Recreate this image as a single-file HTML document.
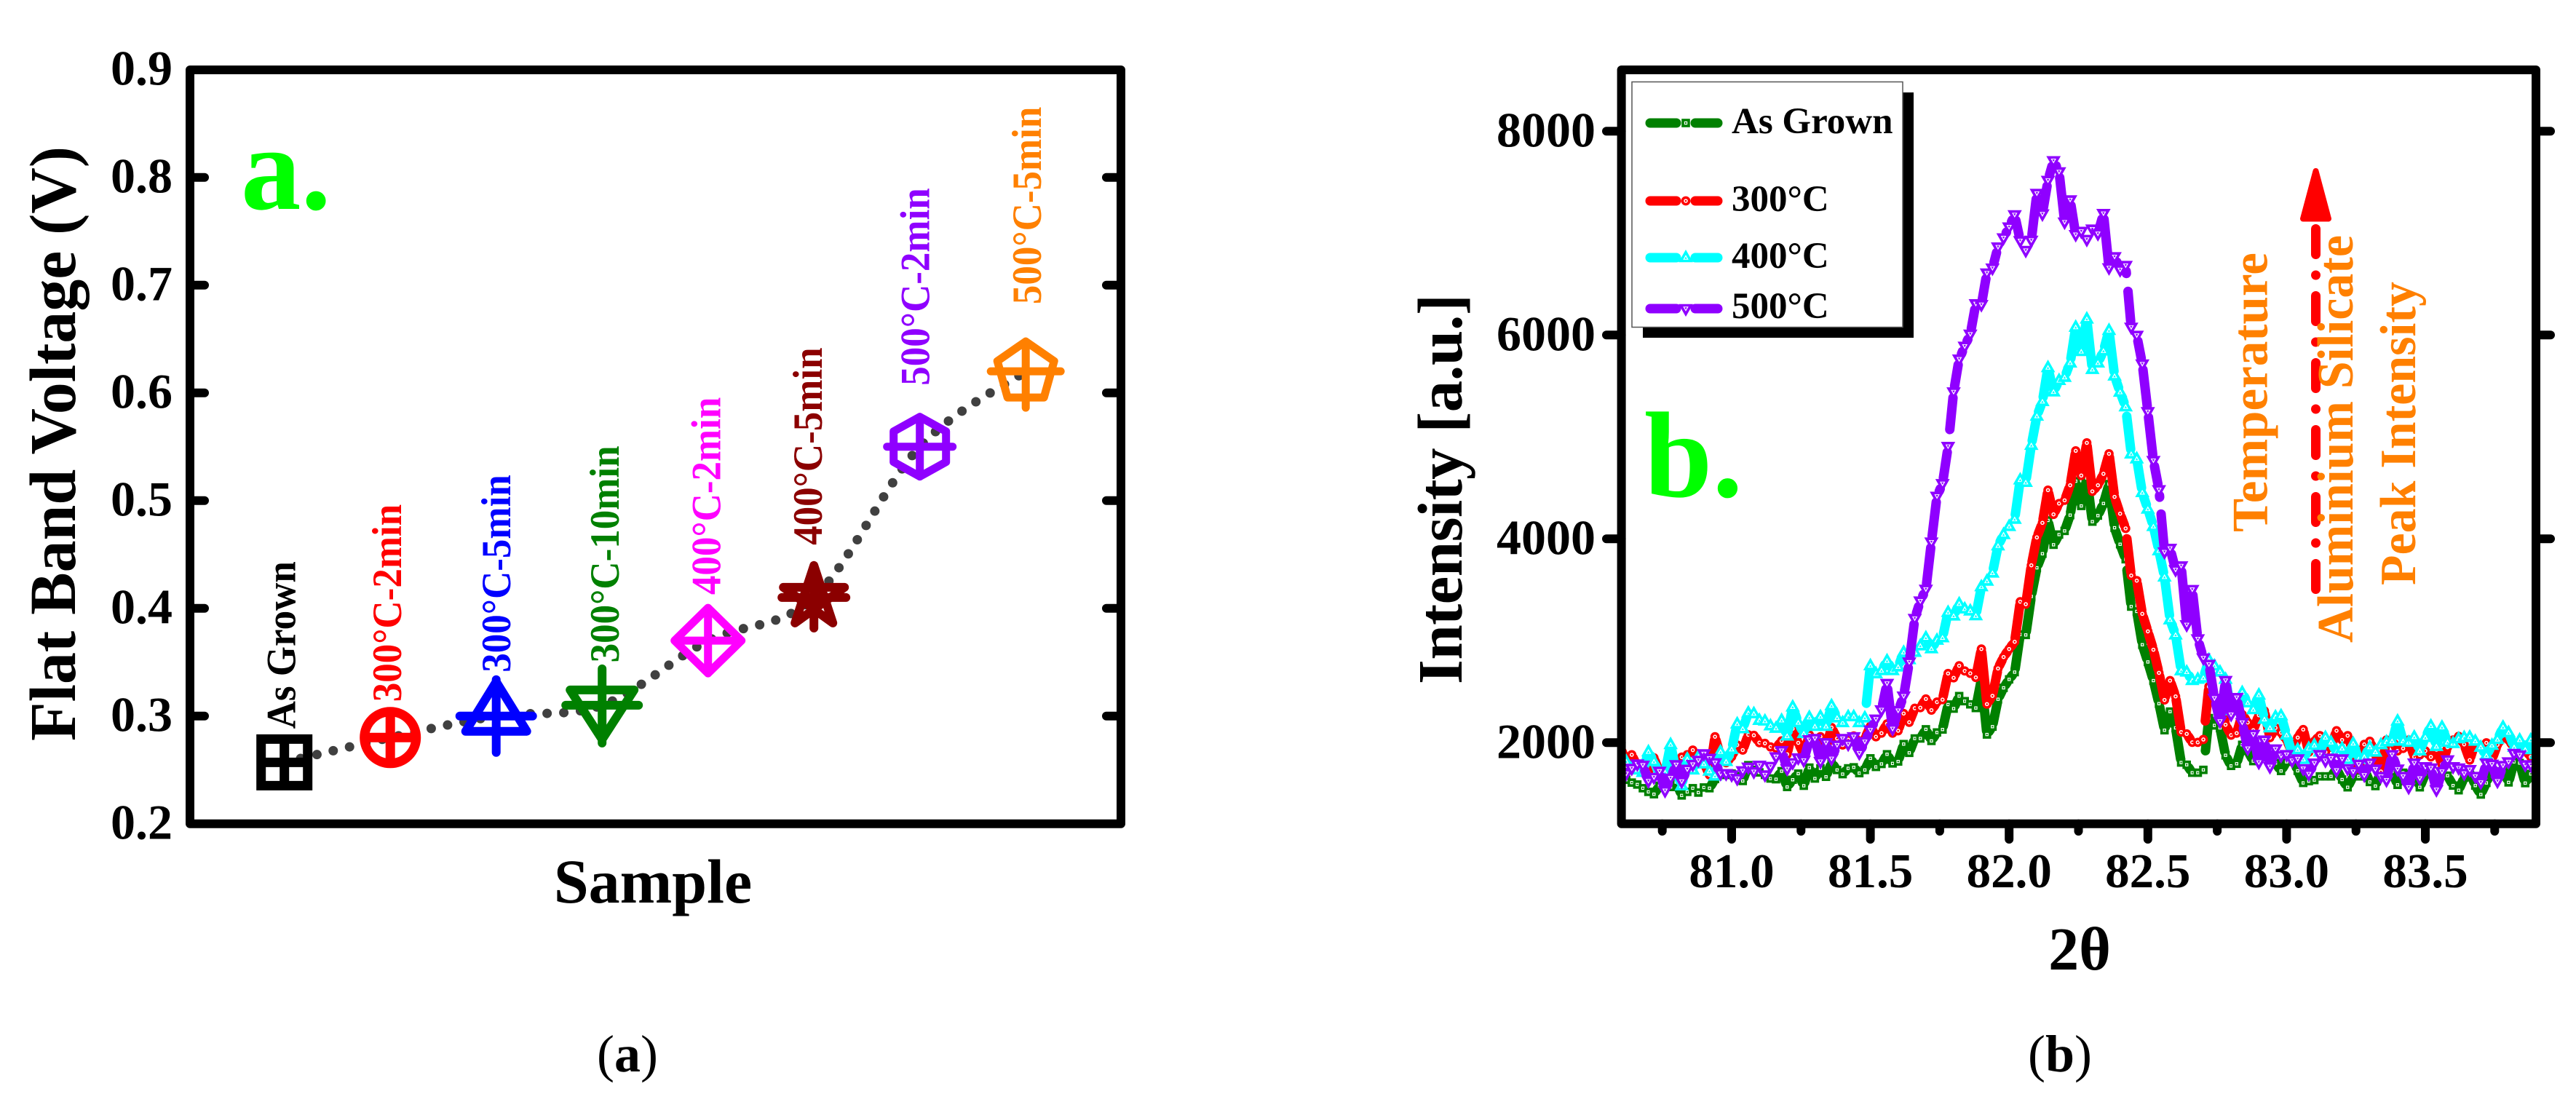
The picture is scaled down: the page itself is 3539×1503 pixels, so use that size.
<!DOCTYPE html>
<html lang="en">
<head>
<meta charset="utf-8">
<title>Flat band voltage and XRD intensity</title>
<style>
html,body{margin:0;padding:0;background:#fff;}
svg{display:block;}
text{font-family:"Liberation Serif","DejaVu Serif",serif;font-weight:bold;}
</style>
</head>
<body>
<svg id="figure" xmlns="http://www.w3.org/2000/svg" width="3539" height="1503" viewBox="0 0 3539 1503">
  <rect x="0" y="0" width="3539" height="1503" fill="#fff"/>
  <defs>
    <clipPath id="plot-b-clip"><rect x="2227" y="96" width="1257" height="1036"/></clipPath>
  </defs>

  <g id="panel-a"></g>
  <text x="331" y="287" font-size="165" fill="#00ff00">a.</text>
  <text transform="rotate(-90 103 1018)" x="103" y="1018" font-size="90" textLength="817" lengthAdjust="spacingAndGlyphs" fill="#000">Flat Band Voltage (V)</text>
  <text x="897" y="1240" font-size="86" text-anchor="middle" fill="#000">Sample</text>
  <text x="862" y="1472" font-size="72" text-anchor="middle" fill="#000"><tspan font-weight="normal">(</tspan>a<tspan font-weight="normal">)</tspan></text>

  <g id="panel-b-data" clip-path="url(#plot-b-clip)"></g>
  <g id="panel-b"></g>

  <g>
    <rect x="2257" y="127" width="372" height="337" fill="#000"/>
    <rect x="2242" y="112.5" width="372" height="337" fill="#fff" stroke="#555" stroke-width="1.5"/>
    <g id="legend-items"></g>
    <text x="2379" y="183" font-size="51" fill="#000">As Grown</text>
    <text x="2379" y="290" font-size="51" fill="#000">300°C</text>
    <text x="2379" y="368" font-size="51" fill="#000">400°C</text>
    <text x="2379" y="437" font-size="51" fill="#000">500°C</text>
  </g>

  <text x="2259" y="682" font-size="168" fill="#00ff00">b.</text>
  <text transform="rotate(-90 2008 940)" x="2008" y="940" font-size="87" textLength="536" lengthAdjust="spacing" fill="#000">Intensity [a.u.]</text>
  <text x="2857" y="1332" font-size="84" text-anchor="middle" fill="#000">2θ</text>
  <text x="2830" y="1472" font-size="72" text-anchor="middle" fill="#000"><tspan font-weight="normal">(</tspan>b<tspan font-weight="normal">)</tspan></text>

  <g>
    <line x1="3181.5" y1="809.5" x2="3181.5" y2="314" stroke="#ff0000" stroke-width="13" stroke-linecap="round" stroke-dasharray="35 28.5 0 28.5"/>
    <polygon points="3181.5,235 3199,300.5 3164,300.5" fill="#ff0000" stroke="#ff0000" stroke-width="8" stroke-linejoin="round"/>
  </g>
  <text transform="rotate(-90 3114.6 731)" x="3114.6" y="731" font-size="70" textLength="384" lengthAdjust="spacingAndGlyphs" fill="#ff8000">Temperature</text>
  <text transform="rotate(-90 3232 883)" x="3232" y="883" font-size="70" textLength="560" lengthAdjust="spacingAndGlyphs" fill="#ff8000">Aluminium Silicate</text>
  <text transform="rotate(-90 3318 804)" x="3318" y="804" font-size="70" textLength="417" lengthAdjust="spacingAndGlyphs" fill="#ff8000">Peak Intensity</text>
</svg>

<script>
// ---- Panel a data ----
const sampleNames = ['As Grown','300°C-2min','300°C-5min','300°C-10min','400°C-2min','400°C-5min','500°C-2min','500°C-5min'];
const flatBandVoltage = [0.257,0.28,0.30,0.31,0.37,0.41,0.55,0.62];
const voltageTicks = ['0.2','0.3','0.4','0.5','0.6','0.7','0.8','0.9'];

// ---- Panel b data ----
const intensityTicks = ['2000','4000','6000','8000'];
const thetaTicks = ['81.0','81.5','82.0','82.5','83.0','83.5'];
const thetaMinorTicks = ['80.75','81.25','81.75','82.25','82.75','83.25','83.75'];
const thetaStart = 80.6;
const thetaStep = 0.02;
const seriesNames = ['As Grown','300°C','400°C','500°C'];
const asGrown = [
1648,1636,1608,1589,1553,1517,1494,1577,1601,1565,
1613,1482,1517,1553,1510,1560,1553,1643,1684,1684,
1696,1672,1624,1779,1732,1708,1684,1648,1641,1720,
1565,1636,1696,1577,1755,1648,1748,1665,1803,1732,
1691,1748,1758,1701,1732,1846,1762,1791,1886,1796,
1815,1986,1900,2041,2041,2131,2017,2100,2129,2374,
2334,2457,2407,2376,2340,2621,2080,2157,2426,2538,
2621,2692,3061,3057,3435,3716,3854,4181,3942,4042,
4078,4233,4566,4323,4597,4169,4228,4347,4538,4109,
3947,3800,3335,3288,2961,2792,2609,2383,2122,2305,
2145,1805,1783,1705,1705,1733,2241,2169,2145,1876,
1772,1793,1979,1919,1819,1860,1860,1860,1800,1722,
1812,1860,1724,1605,1622,1633,1669,1669,1669,1741,
1638,1562,1669,1669,1741,1614,1574,1717,1669,1717,
1586,1705,1693,1741,1562,1693,1693,1645,1693,1676,
1579,1533,1657,1717,1579,1491,1605,1741,1717,1741,
1610,1812,1800,1603,1693,1622];
const temp300 = [
1946,1815,1881,1767,1732,1708,1851,1708,1696,1684,
1696,1858,1881,1927,1839,1803,1684,2058,1862,1803,
1862,1977,1927,2077,2072,2000,1993,1958,1946,2017,
1886,2136,1998,1886,2077,2005,2058,1946,2148,2041,
1977,2029,2065,1993,2041,2160,2058,2093,2184,2093,
2117,2286,2200,2338,2343,2429,2319,2398,2422,2679,
2636,2755,2704,2680,2640,2919,2378,2459,2728,2840,
2919,2990,3383,3359,3740,4014,4157,4478,4240,4347,
4378,4526,4864,4621,4942,4466,4526,4638,4835,4412,
4247,4102,3640,3590,3264,3092,2912,2685,2419,2609,
2454,2104,2086,2003,2003,2031,2550,2455,2431,2176,
2074,2093,2276,2198,2122,2269,2312,2050,2145,2098,
2026,1907,2050,2129,1907,2014,2069,1907,1955,2117,
2026,2069,1907,1741,1983,2014,1883,1717,2026,2026,
1919,1943,2026,1860,1879,1919,1860,1931,1788,1955,
2026,2062,1983,1829,2003,1955,1998,1836,1979,2069,
2026,1955,1967,1931,1860,1824];
const temp400 = [
1839,1815,1755,1732,1708,1910,1815,1684,1708,1981,
1720,1577,1839,1732,1862,1791,1720,1672,1910,1815,
1934,2184,2136,2291,2284,2219,2212,2165,2141,2219,
2065,2350,2196,2089,2248,2160,2255,2160,2362,2243,
2196,2255,2255,2196,2243,2755,2676,2707,2803,2707,
2743,2886,2814,2886,2950,3029,2921,3005,3029,3278,
3243,3362,3312,3292,3245,3530,3585,3664,3931,4042,
4121,4192,4578,4554,4918,5204,5347,5680,5442,5554,
5585,5726,6077,5838,6157,5662,5726,5844,6045,5598,
5439,5295,4833,4785,4454,4292,4121,3883,3626,3205,
3057,2705,2693,2610,2622,2634,2812,2753,2693,2622,
2312,2383,2491,2391,2324,2467,2229,2145,2253,2264,
2074,1895,1931,1836,1943,1974,1907,2050,2003,1907,
1943,1836,1991,1836,1860,1955,1907,1979,2007,2014,
2212,2014,2003,2055,1919,2050,2164,1962,2152,2003,
1991,2038,2050,2055,2014,1955,1872,1974,2031,2152,
2098,1955,2026,1931,2026,1883];
const temp500 = [
1708,1696,1748,1791,1779,1624,1660,1720,1529,1653,
1784,1620,1739,1786,1827,1891,1846,1803,1696,1696,
1684,1648,1724,1760,1715,1779,1684,1767,1862,1922,
1743,1803,1851,1827,2029,2041,1815,2000,1843,1977,
2041,1986,2058,1898,2010,2124,2231,2322,2581,2136,
2315,2457,2791,3219,3390,3505,3969,4418,4542,4907,
5442,5764,5890,6009,6307,6299,6609,6657,6864,6954,
7061,7180,6926,6830,6930,7390,7188,7518,7711,7602,
7109,7327,6986,7018,6938,7040,6995,7193,6660,6769,
6641,6683,6077,5997,5716,5248,4769,4482,3871,3907,
3697,3735,3157,3503,3019,2831,2769,2436,2210,2610,
2276,2443,2198,1943,2081,1807,2026,1764,1938,1872,
1883,1824,1841,1745,1693,1800,1883,1824,1848,1729,
1841,1745,1717,1788,1681,1800,1741,1669,1633,1883,
1741,1669,1562,1800,1650,1764,1752,1538,1717,1831,
1764,1752,1698,1736,1669,1610,1800,1788,1622,1776,
1812,1895,1879,1783,1783,1693];

const NS = 'http://www.w3.org/2000/svg';
function el(tag, attrs, parent){
  const n = document.createElementNS(NS, tag);
  for (const k in attrs) n.setAttribute(k, attrs[k]);
  parent.appendChild(n);
  return n;
}

// ---- Panel a axes ----
const aLeft = 261, aRight = 1540, aTop = 96, aBottom = 1131.7;
function aX(i){ return 390.7 + 145.5 * i; }
function aY(v){ return aBottom - (v - 0.2) * 1480; }
const panelA = document.getElementById('panel-a');

voltageTicks.forEach(function(t){
  const v = parseFloat(t);
  const y = aY(v);
  const label = el('text', {x: 237, y: y + 21, 'font-size': 68, 'text-anchor': 'end', fill: '#000'}, panelA);
  label.textContent = t;
  
  
  if (v > 0.2 && v < 0.9) {
    const left = el('line', {x1: aLeft, x2: 281, y1: y, y2: y, stroke: '#000', 'stroke-width': 12, 'stroke-linecap': 'round'}, panelA);
    
    
    const right = el('line', {x1: aRight, x2: 1520, y1: y, y2: y, stroke: '#000', 'stroke-width': 12, 'stroke-linecap': 'round'}, panelA);
    
    
  }
});
const frameA = el('rect', {x: aLeft, y: aTop, width: aRight - aLeft, height: aBottom - aTop, fill: 'none', stroke: '#000', 'stroke-width': 12, 'stroke-linejoin': 'round'}, panelA);



// dotted trend through the samples (Catmull-Rom smoothing)
function trendPath(){
  const p = flatBandVoltage.map(function(v, i){ return [aX(i), aY(v)]; });
  let d = 'M' + p[0][0] + ' ' + p[0][1];
  for (let i = 0; i < p.length - 1; i++) {
    const a = p[Math.max(i - 1, 0)], b = p[i], c = p[i + 1], e = p[Math.min(i + 2, p.length - 1)];
    d += 'C' + (b[0] + (c[0] - a[0]) / 6) + ' ' + (b[1] + (c[1] - a[1]) / 6) + ' ' +
         (c[0] - (e[0] - b[0]) / 6) + ' ' + (c[1] - (e[1] - b[1]) / 6) + ' ' + c[0] + ' ' + c[1];
  }
  return d;
}
const trend = el('path', {d: trendPath(), fill: 'none', stroke: '#404040', 'stroke-width': 13, 'stroke-linecap': 'round', 'stroke-dasharray': '0 23'}, panelA);



// marker glyph outlines, relative to the sample point
const sampleGlyphs = [
  {c:'#000000', w:13, d:'M-32 -32H32V32H-32ZM-32 0H32M0 -32V32', dx:14.8, dy:-46},
  {c:'#ff0000', w:13, d:'M-35.5 0A35.5 35.5 0 1 0 35.5 0A35.5 35.5 0 1 0 -35.5 0ZM-35.5 0H35.5M0 -35.5V35.5', dx:15, dy:-49},
  {c:'#0000ff', w:12, d:'M0 -47L42 21H-42ZM-50 0H50M0 -50V50', dx:19.5, dy:-60},
  {c:'#008000', w:12, d:'M-44 -21H44L0 47ZM-50 0H50M0 -50V52', dx:23, dy:-58.5},
  {c:'#ff00ff', w:11, d:'M0 -45L46 0L0 45L-46 0ZM-46 0H46M0 -45V45', dx:17, dy:-63},
  {c:'#8b0000', w:12, d:'M0 -44L26 35L-42 -14H42L-26 35ZM-44 0H44M0 -44V42', dx:11, dy:-72},
  {c:'#8f00ff', w:11, d:'M0 -41L36 -21V21L0 41L-36 21V-21ZM-45 0H45M0 -41V41', dx:13, dy:-84},
  {c:'#ff8000', w:11, d:'M0 -41L39 -14L25 36H-25L-39 -14ZM-48 0H48M0 -41V50', dx:21, dy:-92}
];
flatBandVoltage.forEach(function(v, i){
  const g = sampleGlyphs[i];
  const x = aX(i), y = aY(v);
  const mark = el('path', {d: g.d, transform: 'translate(' + x + ' ' + y + ')', fill: 'none', stroke: g.c, 'stroke-width': g.w, 'stroke-linecap': 'round', 'stroke-linejoin': i === 0 ? 'miter' : 'round'}, panelA);
  
  
  const lx = x + g.dx, ly = y + g.dy;
  const lab = el('text', {x: lx, y: ly, transform: 'rotate(-90 ' + lx + ' ' + ly + ')', 'font-size': 57, fill: g.c}, panelA);
  lab.textContent = sampleNames[i];
  
  
  // reference glyphs are taller across the baseline than they are long: squeeze along it
  lab.setAttribute('textLength', (lab.getComputedTextLength() * 53 / 57).toFixed(1));
  lab.setAttribute('lengthAdjust', 'spacingAndGlyphs');
});

// ---- Panel b axes ----
const bLeft = 2227.6, bRight = 3484, bTop = 96, bBottom = 1131.8;
function bX(t){ return 2379 + (t - 81) * 381.2; }
function bY(v){ return 1020.3 - (v - 2000) * 0.14; }
const panelBData = document.getElementById('panel-b-data');
const panelB = document.getElementById('panel-b');

intensityTicks.forEach(function(t){
  const y = bY(parseFloat(t));
  const label = el('text', {x: 2192, y: y + 21, 'font-size': 68, 'text-anchor': 'end', fill: '#000'}, panelB);
  label.textContent = t;
  
  
  const left = el('line', {x1: bLeft, x2: 2207, y1: y, y2: y, stroke: '#000', 'stroke-width': 12, 'stroke-linecap': 'round'}, panelB);
  
  
  const right = el('line', {x1: bRight, x2: 3504, y1: y, y2: y, stroke: '#000', 'stroke-width': 12, 'stroke-linecap': 'round'}, panelB);
  
  
});
thetaTicks.forEach(function(t){
  const x = bX(parseFloat(t));
  const tick = el('line', {x1: x, x2: x, y1: bBottom, y2: 1153, stroke: '#000', 'stroke-width': 12, 'stroke-linecap': 'round'}, panelB);
  
  
  const label = el('text', {x: x, y: 1219, 'font-size': 67, 'text-anchor': 'middle', fill: '#000'}, panelB);
  label.textContent = t;
  
  
});
thetaMinorTicks.forEach(function(t){
  const x = bX(parseFloat(t));
  const tick = el('line', {x1: x, x2: x, y1: bBottom, y2: 1142, stroke: '#000', 'stroke-width': 12, 'stroke-linecap': 'round'}, panelB);
  
  
});
const frameB = el('rect', {x: bLeft, y: bTop, width: bRight - bLeft, height: bBottom - bTop, fill: 'none', stroke: '#000', 'stroke-width': 12, 'stroke-linejoin': 'round'}, panelB);



// small open symbols of the diffraction traces
function drawSymbol(parent, kind, color, x, y){
  const g = el('g', {transform: 'translate(' + x + ' ' + y + ')'}, parent);
  
  
  if (kind === 'square') {
    el('rect', {x: -4, y: -4, width: 8, height: 8, fill: '#fff', stroke: color, 'stroke-width': 3.6}, g);
    el('rect', {x: -1, y: -1, width: 2, height: 2, fill: color}, g);
  } else if (kind === 'circle') {
    el('circle', {r: 4.6, fill: '#fff', stroke: color, 'stroke-width': 3.6}, g);
    el('circle', {r: 1.3, fill: color}, g);
  } else if (kind === 'up') {
    el('polygon', {points: '0,-7.5 6.8,4.5 -6.8,4.5', fill: '#fff', stroke: color, 'stroke-width': 3.6, 'stroke-linejoin': 'miter'}, g);
    el('polygon', {points: '0,-1.5 1.8,1.8 -1.8,1.8', fill: color}, g);
  } else {
    el('polygon', {points: '-6.8,-4.5 6.8,-4.5 0,7.5', fill: '#fff', stroke: color, 'stroke-width': 3.6, 'stroke-linejoin': 'miter'}, g);
    el('polygon', {points: '-1.8,-1.8 1.8,-1.8 0,1.5', fill: color}, g);
  }
  return g;
}

// trace: segments trimmed around symbols, with a few hand-placed dash breaks
// (breaks maps a segment index to the removed [from, to] fraction of that segment)
function tracePath(values, gap, breaks){
  let d = '';
  function piece(x0, y0, ux, uy, s, e){
    if (e - s > 0.5) {
      d += 'M' + (x0 + ux * s).toFixed(1) + ' ' + (y0 + uy * s).toFixed(1) +
           'L' + (x0 + ux * e).toFixed(1) + ' ' + (y0 + uy * e).toFixed(1);
    }
  }
  for (let i = 0; i < values.length - 1; i++) {
    const x0 = bX(thetaStart + thetaStep * i), y0 = bY(values[i]);
    const x1 = bX(thetaStart + thetaStep * (i + 1)), y1 = bY(values[i + 1]);
    const L = Math.hypot(x1 - x0, y1 - y0);
    if (L <= 2 * gap + 0.5) continue;
    const ux = (x1 - x0) / L, uy = (y1 - y0) / L;
    const b = breaks[i];
    if (b) {
      piece(x0, y0, ux, uy, gap, Math.min(b[0] * L, L - gap));
      piece(x0, y0, ux, uy, Math.max(b[1] * L, gap), L - gap);
    } else {
      piece(x0, y0, ux, uy, gap, L - gap);
    }
  }
  return d;
}

const traceStyles = [
  {c:'#008000', k:'square', gap:5, breaks:{91:[0,0.23], 105:[0,0.37]}},
  {c:'#ff0000', k:'circle', gap:5, breaks:{91:[0,0.22], 105:[0,0.35]}},
  {c:'#00ffff', k:'up', gap:6.5, breaks:{44:[0,0.28], 91:[0,0.2]}},
  {c:'#8f00ff', k:'down', gap:8, breaks:{59:[0,0.31], 91:[0.13,0.42], 97:[0.12,0.39]}}
];
const traceSeries = [asGrown, temp300, temp400, temp500];
traceSeries.forEach(function(values, s){
  const st = traceStyles[s];
  const group = el('g', {}, panelBData);
  
  
  const line = el('path', {d: tracePath(values, st.gap, st.breaks), fill: 'none', stroke: st.c, 'stroke-width': 13, 'stroke-linecap': 'round'}, group);
  
  
  values.forEach(function(v, i){
    drawSymbol(group, st.k, st.c, bX(thetaStart + thetaStep * i), bY(v));
  });
});

// legend keys
const legendItems = document.getElementById('legend-items');
const legendRows = [169, 276, 354, 424];
legendRows.forEach(function(y, s){
  const st = traceStyles[s];
  const key = el('path', {d: 'M2267 ' + y + 'H2303M2329 ' + y + 'H2360', fill: 'none', stroke: st.c, 'stroke-width': 13, 'stroke-linecap': 'round'}, legendItems);
  
  
  drawSymbol(legendItems, st.k, st.c, 2316, y);
});
</script>
</body>
</html>
